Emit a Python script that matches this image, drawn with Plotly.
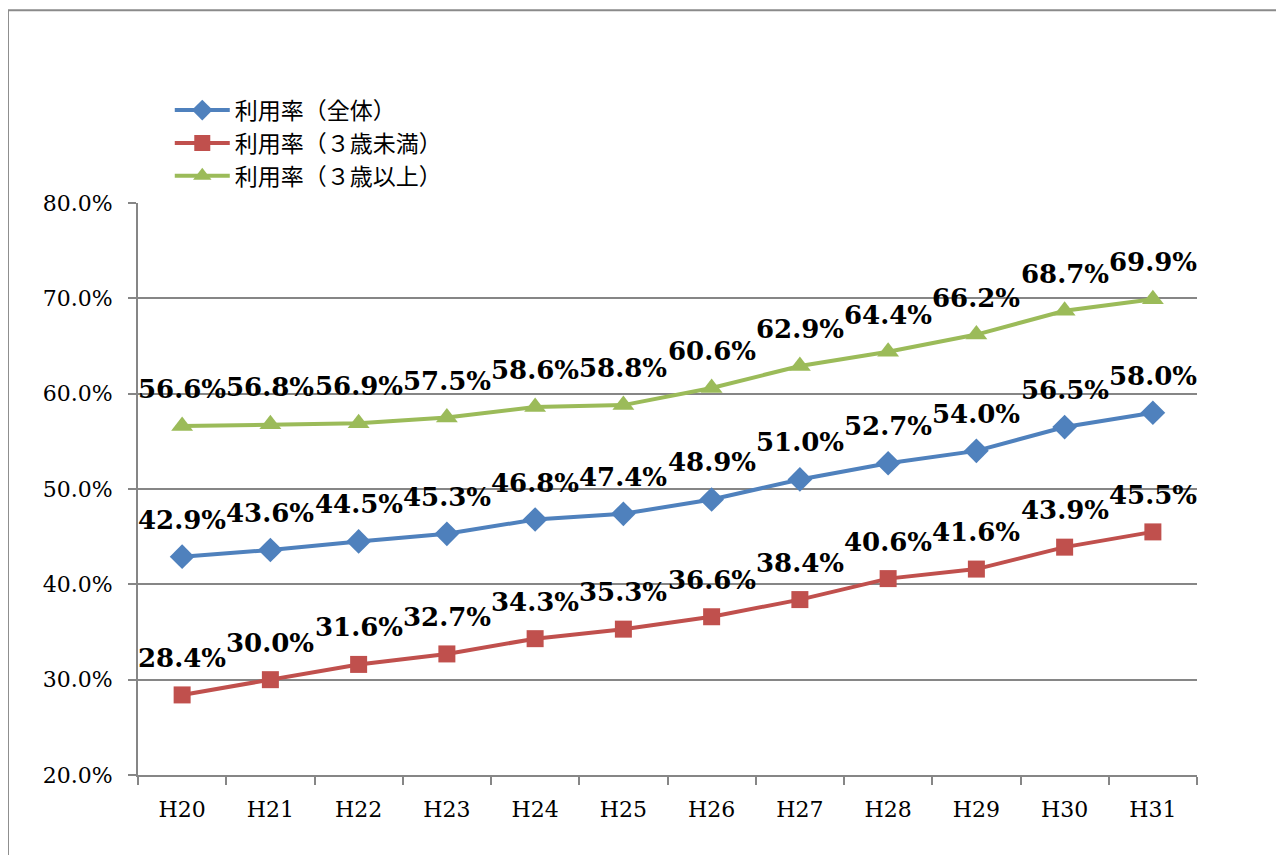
import plotly.graph_objects as go

years = ["H20", "H21", "H22", "H23", "H24", "H25", "H26", "H27", "H28", "H29", "H30", "H31"]
rate_all = [42.9, 43.6, 44.5, 45.3, 46.8, 47.4, 48.9, 51.0, 52.7, 54.0, 56.5, 58.0]
rate_under3 = [28.4, 30.0, 31.6, 32.7, 34.3, 35.3, 36.6, 38.4, 40.6, 41.6, 43.9, 45.5]
rate_over3 = [56.6, 56.8, 56.9, 57.5, 58.6, 58.8, 60.6, 62.9, 64.4, 66.2, 68.7, 69.9]

names = ["利用率（全体）", "利用率（３歳未満）", "利用率（３歳以上）"]
colors = ["#4F81BD", "#C0504D", "#9BBB59"]
symbols = ["diamond", "square", "triangle-up"]
sizes = [19, 17, 19]
series = [rate_all, rate_under3, rate_over3]

fig = go.Figure()
annotations = []
for name, vals, col, sym, sz in zip(names, series, colors, symbols, sizes):
    fig.add_trace(go.Scatter(
        x=years, y=vals, name=name, mode="lines+markers",
        line=dict(color=col, width=4),
        marker=dict(symbol=sym, size=sz, color=col),
        cliponaxis=False,
    ))
    for yr, v in zip(years, vals):
        annotations.append(dict(
            x=yr, y=v, xref="x", yref="y", text=f"{v:.1f}%", showarrow=False,
            yanchor="bottom", xanchor="center", yshift=20,
            font=dict(family="DejaVu Serif", size=26, color="black", weight="bold"),
        ))

fig.update_layout(
    width=1284, height=855,
    margin=dict(l=130, r=95, t=195, b=88),
    paper_bgcolor="white", plot_bgcolor="white",
    showlegend=True,
    legend=dict(x=0.03, y=1.2, xanchor="left", yanchor="top",
                font=dict(family="Noto Sans CJK JP", size=23, color="black"),
                bgcolor="rgba(0,0,0,0)", tracegroupgap=0, itemwidth=55),
    xaxis=dict(type="category", range=[-0.5, 11.5], autorange=False,
               showgrid=False, showline=True, linecolor="#868686", linewidth=2,
               ticks="outside", tickson="boundaries", ticklen=8, tickcolor="#868686", tickwidth=2,
               ticklabelstandoff=14,
               tickfont=dict(family="DejaVu Serif", size=22, color="black")),
    yaxis=dict(range=[20, 80], dtick=10, ticksuffix="%", tickformat=".1f",
               showgrid=True, gridcolor="#868686", gridwidth=1.5,
               showline=True, linecolor="#868686", linewidth=2,
               ticks="outside", ticklen=8, tickcolor="#868686", tickwidth=2,
               ticklabelstandoff=11,
               tickfont=dict(family="DejaVu Serif", size=22, color="black"),
               zeroline=False),
    annotations=annotations,
    shapes=[dict(type="rect", xref="paper", yref="paper",
                 x0=-0.1228, x1=1.3, y0=-0.4, y1=1.337,
                 line=dict(color="#8a8a8a", width=2), fillcolor="rgba(0,0,0,0)", layer="below")],
)

fig.write_html("out.html")
